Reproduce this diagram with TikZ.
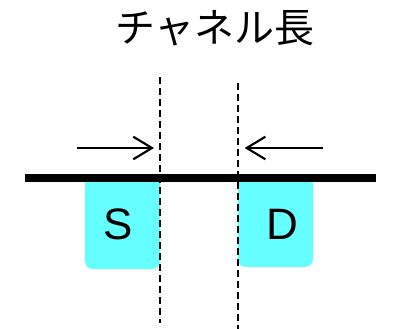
\documentclass[tikz,border=0pt]{standalone}
\usepackage{fontspec}
\setmainfont{Liberation Sans}
\newfontfamily\jpfont{Noto Sans CJK JP}
\usetikzlibrary{arrows.meta, positioning}
\definecolor{cCyan}{RGB}{102,255,255}
\tikzset{
    region/.style   ={rectangle, rounded corners=6pt, minimum width=56.25pt, minimum height=69.75pt, fill=cCyan, draw=none, inner sep=0pt},
    termlabel/.style={font=\fontsize{33}{33}\selectfont, inner sep=0pt},
    edgeline/.style ={line width=1.2pt, dash pattern=on 5.25pt off 3pt},
    lenarrow/.style ={-{Straight Barb[length=14pt, width=17pt, line width=1.6pt]}, line width=1.6pt},
    surface/.style  ={line width=5.6pt},
}

\begin{document}
\begin{tikzpicture}[x=0.75pt, y=-0.75pt]
                \useasboundingbox (0,0) rectangle (401,329);
                \node[font=\jpfont\fontsize{30}{30}\selectfont, inner sep=0pt] (title) at (215,28) {チャネル長};
                % source / drain regions
                \node[region] (sbox) at (122.5,222.5) {};
                \node[region, minimum height=68.25pt] (dbox) at (275.5,221.5) {};
                \node[termlabel] (s) at (118,224) {S};
                \node[termlabel] (d) at (282,224) {D};
                % surface
                \coordinate (gl) at (25,178);
                \coordinate (gr) at (376,178);
                \draw[surface] (gl) -- (gr);
                % channel edges
                \coordinate (et1) at (160,77);
                \coordinate (eb1) at (160,323);
                \coordinate (et2) at (238,83);
                \coordinate (eb2) at (238,329);
                \draw[edgeline] (et1) -- (eb1);
                \draw[edgeline] (et2) -- (eb2);
                % length arrows
                \coordinate (al) at (77,148);
                \coordinate (ar) at (323,148);
                \draw[lenarrow] (al) -- ([xshift=-4.5pt]et1 |- al);
                \draw[lenarrow] (ar) -- ([xshift=5pt]et2 |- ar);
            \end{tikzpicture}
\end{document}
